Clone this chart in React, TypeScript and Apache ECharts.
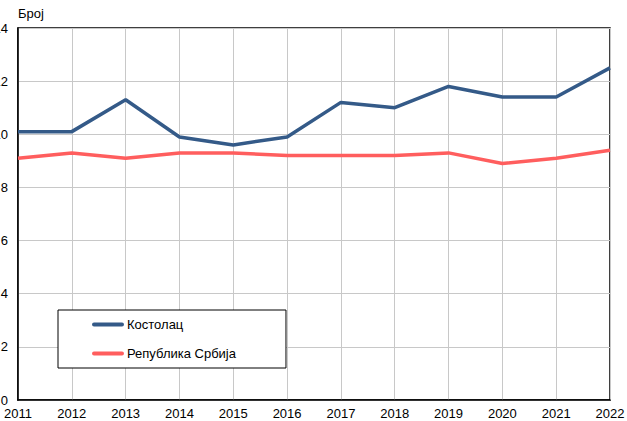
import React, { useEffect, useRef } from "react";
import * as echarts from "echarts";

const years = ["2011", "2012", "2013", "2014", "2015", "2016", "2017", "2018", "2019", "2020", "2021", "2022"];
const kostolac = [10.1, 10.1, 11.3, 9.9, 9.6, 9.9, 11.2, 11.0, 11.8, 11.4, 11.4, 12.5];
const srbija = [9.1, 9.3, 9.1, 9.3, 9.3, 9.2, 9.2, 9.2, 9.3, 8.9, 9.1, 9.4];
const seriesNames = ["Костолац", "Република Србија"];
const yAxisName = "Број";

export default function App() {
  const ref = useRef<HTMLDivElement>(null);
  useEffect(() => {
    if (!ref.current) return;
    const chart = echarts.init(ref.current, null, { renderer: "svg" });
    const font = "Liberation Sans, Arial, sans-serif";
    chart.setOption({
      animation: false,
      textStyle: { fontFamily: font },
      grid: {
        left: 18, right: 17, top: 28, bottom: 21,
        outerBoundsMode: "none",
        containLabel: false,
        show: true, borderColor: "#000", borderWidth: 1.5,
      },
      legend: {
        orient: "vertical",
        left: 58,
        top: 310,
        padding: [8, 50, 8, 34],
        itemGap: 16,
        itemWidth: 28,
        itemHeight: 14,
        borderColor: "#000",
        borderWidth: 1,
        backgroundColor: "#fff",
        itemStyle: { opacity: 0 },
        lineStyle: { width: 4, cap: "round" },
        textStyle: { fontSize: 13, color: "#000", fontFamily: font },
        data: seriesNames,
      },
      xAxis: {
        type: "category",
        data: years,
        boundaryGap: false,
        axisLine: { show: true, lineStyle: { color: "#000", width: 1.5 } },
        axisTick: { show: false },
        axisLabel: { color: "#000", fontSize: 13, margin: 7, fontFamily: font },
        splitLine: { show: true, lineStyle: { color: "#c8c8c8", width: 1 } },
      },
      yAxis: {
        type: "value",
        min: 0,
        max: 14,
        interval: 2,
        name: yAxisName,
        nameLocation: "end",
        nameGap: 8,
        nameTextStyle: { color: "#000", fontSize: 13, align: "left", fontFamily: font },
        axisLine: { show: true, lineStyle: { color: "#000", width: 1.5 } },
        axisTick: { show: false },
        axisLabel: { color: "#000", fontSize: 13, margin: 10, fontFamily: font },
        splitLine: { show: true, lineStyle: { color: "#c8c8c8", width: 1 } },
      },
      series: [
        {
          name: seriesNames[0],
          type: "line",
          data: kostolac,
          symbol: "none",
          lineStyle: { color: "#345a88", width: 3.5 },
          itemStyle: { color: "#345a88" },
        },
        {
          name: seriesNames[1],
          type: "line",
          data: srbija,
          symbol: "none",
          lineStyle: { color: "#ff5e5e", width: 3.5 },
          itemStyle: { color: "#ff5e5e" },
        },
      ],
    });
    return () => chart.dispose();
  }, []);
  return <div ref={ref} style={{ position: "absolute", left: 0, top: 0, width: 627, height: 421 }} />;
}
